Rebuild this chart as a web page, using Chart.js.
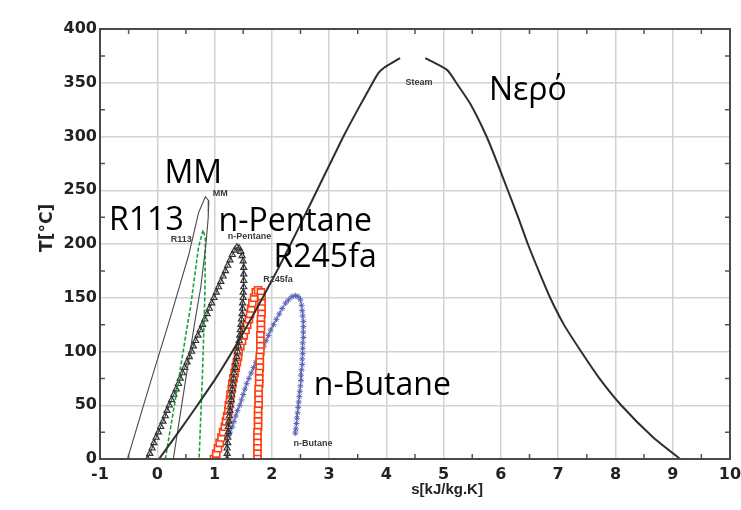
<html>

<head>
    <title>T-s diagram</title>
    <script src="https://cdn.jsdelivr.net/npm/chart.js"></script>
    <style>
        body {
            margin: 0;
            background: #ffffff;
        }

        .container {
            position: relative;
            width: 741px;
            height: 510px;
        }
    </style>
</head>

<body>
    <div class="container"><canvas id="myChart"></canvas></div>

    <script>
        // axis ranges / ticks
        const sMin = -1, sMax = 10, sStep = 1
        const tMin = 0, tMax = 400, tStep = 50

        // water (steam) saturation dome, two branches with a gap at the top
        const waterLiqT = [0, 25, 50, 75, 100, 125, 150, 175, 200, 225, 250, 275, 300, 325, 350, 359, 364, 373]
        const waterLiqS = [0.03, 0.37, 0.70, 1.02, 1.31, 1.58, 1.84, 2.09, 2.33, 2.56, 2.79, 3.02, 3.25, 3.50, 3.76, 3.86, 3.96, 4.24]
        const waterVapT = [373, 362, 350, 330, 300, 275, 250, 225, 200, 175, 150, 125, 100, 75, 50, 20, 0]
        const waterVapS = [4.68, 5.06, 5.22, 5.47, 5.75, 5.94, 6.12, 6.30, 6.47, 6.66, 6.86, 7.10, 7.40, 7.72, 8.10, 8.66, 9.13]

        // MM
        const mmT = [0, 66, 132, 190, 229, 244, 240, 225, 200, 160, 129, 65, 0]
        const mmS = [-0.52, -0.15, 0.23, 0.55, 0.72, 0.84, 0.90, 0.89, 0.85, 0.76, 0.66, 0.47, 0.28]

        // R113
        const r113T = [0, 60, 129, 141, 197, 213, 205, 150, 80, 0]
        const r113S = [0.14, 0.33, 0.54, 0.58, 0.72, 0.80, 0.84, 0.83, 0.79, 0.73]

        // n-Pentane
        const pentaneT = [0, 5, 10, 15, 20, 25, 30, 35, 40, 45, 50, 55, 60, 65, 70, 75, 80, 85, 90, 95, 100, 105, 110, 115, 120,
            125, 130, 135, 140, 145, 150, 155, 160, 165, 170, 175, 180, 185, 190, 194, 197,
            196, 193, 189, 184, 178, 172, 166, 160, 155, 150, 145, 140, 135, 130, 125, 120, 115, 110, 105, 100,
            95, 90, 85, 80, 75, 70, 65, 60, 55, 50, 45, 40, 35, 30, 25, 20, 15, 10, 5, 0]
        const pentaneS = [-0.17, -0.13, -0.09, -0.06, -0.02, 0.02, 0.06, 0.10, 0.14, 0.17, 0.21, 0.25, 0.29, 0.33, 0.37, 0.40, 0.44, 0.48, 0.52, 0.56, 0.60, 0.63, 0.67, 0.71, 0.75,
            0.79, 0.83, 0.87, 0.91, 0.95, 0.99, 1.03, 1.07, 1.11, 1.15, 1.19, 1.23, 1.27, 1.31, 1.35, 1.39,
            1.43, 1.46, 1.48, 1.50, 1.51, 1.51, 1.51, 1.51, 1.50, 1.50, 1.49, 1.49, 1.48, 1.47, 1.46, 1.45, 1.44, 1.43, 1.42, 1.40,
            1.39, 1.37, 1.36, 1.34, 1.33, 1.32, 1.31, 1.30, 1.29, 1.28, 1.27, 1.26, 1.25, 1.24, 1.24, 1.23, 1.23, 1.22, 1.22, 1.22]

        // R245fa
        const r245T = [0, 5, 10, 15, 20, 25, 30, 35, 40, 45, 50, 55, 60, 65, 70, 75, 80, 85, 90, 95, 100, 105, 110, 115, 120,
            125, 130, 135, 140, 145, 150, 155, 157,
            155, 150, 145, 140, 135, 130, 125, 120, 115, 110, 105, 100, 95, 90, 85, 80, 75, 70, 65, 60,
            55, 50, 45, 40, 35, 30, 25, 20, 15, 10, 5, 0]
        const r245S = [0.99, 1.03, 1.06, 1.09, 1.12, 1.15, 1.18, 1.20, 1.22, 1.24, 1.25, 1.27, 1.28, 1.30, 1.31, 1.33, 1.35, 1.37, 1.39, 1.41, 1.42, 1.45, 1.48, 1.51, 1.54,
            1.57, 1.60, 1.62, 1.64, 1.66, 1.69, 1.72, 1.76,
            1.81, 1.82, 1.82, 1.82, 1.82, 1.81, 1.81, 1.81, 1.80, 1.80, 1.80, 1.80, 1.79, 1.79, 1.79, 1.78, 1.78, 1.78, 1.77, 1.77,
            1.77, 1.77, 1.76, 1.76, 1.76, 1.76, 1.75, 1.75, 1.75, 1.75, 1.75, 1.75]

        // n-Butane
        const butaneT = [22, 25, 30, 35, 40, 45, 50, 55, 60, 65, 70, 75, 80, 85, 90, 95, 100, 105, 110, 115, 120,
            125, 130, 135, 140, 145, 148, 151, 152,
            151, 148, 143, 138, 133, 128, 123, 118, 113, 108, 103, 98, 93, 88, 83, 78, 73, 68, 63, 58,
            53, 48, 43, 38, 33, 28, 24]
        const butaneS = [1.25, 1.27, 1.31, 1.34, 1.37, 1.40, 1.44, 1.47, 1.50, 1.53, 1.56, 1.60, 1.64, 1.68, 1.72, 1.76, 1.81, 1.86, 1.90, 1.94, 1.98,
            2.03, 2.08, 2.13, 2.18, 2.24, 2.29, 2.35, 2.41,
            2.46, 2.50, 2.52, 2.53, 2.54, 2.55, 2.55, 2.55, 2.55, 2.54, 2.54, 2.54, 2.53, 2.53, 2.52, 2.51, 2.51, 2.50, 2.49, 2.48,
            2.47, 2.46, 2.45, 2.44, 2.43, 2.42, 2.41]

        // big annotations (text baseline position, data units)
        const bigText = ['MM', 'R113', 'n-Pentane', 'R245fa', 'n-Butane', 'Νερό']
        const bigS = [0.63, -0.19, 2.41, 2.93, 3.93, 6.47]
        const bigT = [256.5, 213, 212, 178.5, 59.5, 334]

        // small curve tags (centre position, data units)
        const smallText = ['MM', 'R113', 'n-Pentane', 'R245fa', 'n-Butane', 'Steam']
        const smallS = [1.10, 0.42, 1.61, 2.11, 2.72, 4.57]
        const smallT = [246.5, 204, 206.5, 166.5, 14, 350]

        function pts(sArr, tArr) {
            return sArr.map((s, i) => ({ x: s, y: tArr[i] }))
        }

        const decor = {
            id: 'decor',
            afterDatasetsDraw(chart) {
                const { ctx, scales: { x, y } } = chart
                ctx.save()
                ctx.fillStyle = '#000000'
                ctx.textAlign = 'center'
                ctx.textBaseline = 'alphabetic'
                ctx.font = '32px "Open Sans"'
                bigText.forEach((t, i) => {
                    ctx.fillText(t, x.getPixelForValue(bigS[i]), y.getPixelForValue(bigT[i]))
                })
                ctx.fillStyle = '#3a3a3a'
                ctx.textBaseline = 'middle'
                ctx.font = 'bold 9px "Liberation Sans"'
                smallText.forEach((t, i) => {
                    ctx.fillText(t, x.getPixelForValue(smallS[i]), y.getPixelForValue(smallT[i]))
                })
                ctx.restore()
            },
            afterDraw(chart) {
                const { ctx, chartArea: a, scales: { x, y } } = chart
                ctx.save()
                // minor ticks, pointing inwards
                ctx.strokeStyle = '#555555'
                ctx.lineWidth = 1.5
                ctx.beginPath()
                for (let v = sMin + sStep / 2; v < sMax; v += sStep) {
                    const px = x.getPixelForValue(v)
                    ctx.moveTo(px, a.top); ctx.lineTo(px, a.top + 5)
                    ctx.moveTo(px, a.bottom); ctx.lineTo(px, a.bottom - 5)
                }
                for (let v = tMin + tStep / 2; v < tMax; v += tStep) {
                    const py = y.getPixelForValue(v)
                    ctx.moveTo(a.left, py); ctx.lineTo(a.left + 5, py)
                    ctx.moveTo(a.right, py); ctx.lineTo(a.right - 5, py)
                }
                ctx.stroke()
                // frame
                ctx.strokeStyle = '#4a4a4a'
                ctx.lineWidth = 2
                ctx.strokeRect(a.left, a.top, a.right - a.left, a.bottom - a.top)
                // axis titles
                ctx.fillStyle = '#222222'
                ctx.textAlign = 'center'
                ctx.textBaseline = 'middle'
                ctx.font = 'bold 15px "Liberation Sans"'
                ctx.fillText('s[kJ/kg.K]', x.getPixelForValue(5.06), 490)
                ctx.translate(48, y.getPixelForValue(215))
                ctx.rotate(-Math.PI / 2)
                ctx.font = 'bold 17px "DejaVu Sans"'
                ctx.fillText('T[°C]', 0, 0)
                ctx.restore()
            }
        }

        var ctx = document.getElementById('myChart').getContext('2d')

        var myChart = new Chart(ctx, {
            type: 'scatter',
            data: {
                datasets: [{
                    label: 'Steam liquid',
                    data: pts(waterLiqS, waterLiqT),
                    showLine: true,
                    borderColor: '#2e2e2e',
                    borderWidth: 2,
                    pointRadius: 0,
                    tension: 0.2
                },
                {
                    label: 'Steam vapour',
                    data: pts(waterVapS, waterVapT),
                    showLine: true,
                    borderColor: '#2e2e2e',
                    borderWidth: 2,
                    pointRadius: 0,
                    tension: 0.2
                },
                {
                    label: 'MM',
                    data: pts(mmS, mmT),
                    showLine: true,
                    borderColor: '#4a4a4a',
                    borderWidth: 1.1,
                    pointRadius: 0
                },
                {
                    label: 'R113',
                    data: pts(r113S, r113T),
                    showLine: true,
                    borderColor: '#1f9e3e',
                    borderWidth: 1.6,
                    borderDash: [4, 2],
                    pointRadius: 0
                },
                {
                    label: 'n-Pentane',
                    data: pts(pentaneS, pentaneT),
                    showLine: true,
                    borderColor: '#333333',
                    borderWidth: 1,
                    pointStyle: 'triangle',
                    pointRadius: 3.5,
                    pointBorderWidth: 1.2,
                    pointBackgroundColor: 'rgba(255,255,255,0)',
                    pointBorderColor: '#333333'
                },
                {
                    label: 'R245fa',
                    data: pts(r245S, r245T),
                    showLine: false,
                    pointStyle: 'rect',
                    pointRadius: 5,
                    pointBorderWidth: 1.6,
                    pointBackgroundColor: '#ffffff',
                    pointBorderColor: '#ff3c12'
                },
                {
                    label: 'n-Butane',
                    data: pts(butaneS, butaneT),
                    showLine: true,
                    borderColor: '#5b63b5',
                    borderWidth: 1,
                    pointStyle: 'star',
                    pointRadius: 3,
                    pointBorderWidth: 1,
                    pointBorderColor: '#5b63b5'
                }]
            },
            options: {
                responsive: true,
                maintainAspectRatio: false,
                animation: false,
                layout: { padding: { top: 29, right: 11, left: 0, bottom: 0 } },
                plugins: {
                    legend: { display: false },
                    tooltip: { enabled: false }
                },
                scales: {
                    x: {
                        type: 'linear',
                        min: sMin,
                        max: sMax,
                        afterFit: s => { s.height = 51; s.paddingRight = 0; s.paddingLeft = 0 },
                        ticks: {
                            stepSize: sStep,
                            padding: 6,
                            color: '#222222',
                            font: { family: 'DejaVu Sans', size: 16, weight: 'bold' }
                        },
                        grid: { color: '#d2d2d2', lineWidth: 1.5, drawTicks: false },
                        border: { display: false }
                    },
                    y: {
                        type: 'linear',
                        min: tMin,
                        max: tMax,
                        afterFit: s => { s.width = 100; s.paddingTop = 0; s.paddingBottom = 0 },
                        ticks: {
                            stepSize: tStep,
                            padding: 3,
                            color: '#222222',
                            font: { family: 'DejaVu Sans', size: 16, weight: 'bold' }
                        },
                        grid: { color: '#d2d2d2', lineWidth: 1.5, drawTicks: false },
                        border: { display: false }
                    }
                }
            },
            plugins: [decor]
        })
    </script>
</body>

</html>
